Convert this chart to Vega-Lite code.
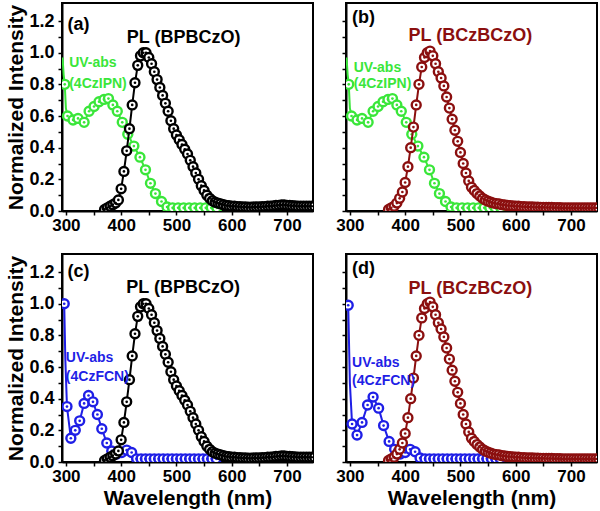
{
"$schema":"https://vega.github.io/schema/vega-lite/v6.json",
"padding":{"left":4,"top":2,"right":0,"bottom":0},
"bounds":"flush",
"columns":2,
"spacing":{"row":43,"column":33},
"datasets":{
"pl1":[{"wl":370,"v":0.01},{"wl":375,"v":0.02},{"wl":380,"v":0.03},{"wl":385,"v":0.04},{"wl":390,"v":0.05},{"wl":395,"v":0.07},{"wl":400,"v":0.14},{"wl":405,"v":0.25},{"wl":410,"v":0.38},{"wl":415,"v":0.52},{"wl":420,"v":0.67},{"wl":425,"v":0.81},{"wl":430,"v":0.92},{"wl":435,"v":0.98},{"wl":440,"v":1.0},{"wl":445,"v":1.0},{"wl":450,"v":0.97},{"wl":455,"v":0.93},{"wl":460,"v":0.88},{"wl":465,"v":0.83},{"wl":470,"v":0.78},{"wl":475,"v":0.73},{"wl":480,"v":0.68},{"wl":485,"v":0.63},{"wl":490,"v":0.57},{"wl":495,"v":0.52},{"wl":500,"v":0.48},{"wl":505,"v":0.45},{"wl":510,"v":0.42},{"wl":515,"v":0.39},{"wl":520,"v":0.36},{"wl":525,"v":0.32},{"wl":530,"v":0.28},{"wl":535,"v":0.24},{"wl":540,"v":0.2},{"wl":545,"v":0.16},{"wl":550,"v":0.13},{"wl":555,"v":0.1},{"wl":560,"v":0.08},{"wl":565,"v":0.065},{"wl":570,"v":0.055},{"wl":575,"v":0.05},{"wl":580,"v":0.045},{"wl":585,"v":0.04},{"wl":590,"v":0.035},{"wl":595,"v":0.033},{"wl":600,"v":0.03},{"wl":605,"v":0.03},{"wl":610,"v":0.028},{"wl":615,"v":0.027},{"wl":620,"v":0.025},{"wl":625,"v":0.025},{"wl":630,"v":0.024},{"wl":635,"v":0.024},{"wl":640,"v":0.025},{"wl":645,"v":0.025},{"wl":650,"v":0.026},{"wl":655,"v":0.027},{"wl":660,"v":0.028},{"wl":665,"v":0.03},{"wl":670,"v":0.03},{"wl":675,"v":0.032},{"wl":680,"v":0.035},{"wl":685,"v":0.036},{"wl":690,"v":0.038},{"wl":695,"v":0.038},{"wl":700,"v":0.036},{"wl":705,"v":0.035},{"wl":710,"v":0.033},{"wl":715,"v":0.032},{"wl":720,"v":0.03},{"wl":725,"v":0.03},{"wl":730,"v":0.03},{"wl":735,"v":0.03},{"wl":740,"v":0.03},{"wl":745,"v":0.03},{"wl":750,"v":0.03}],
"pl2":[{"wl":370,"v":0.01},{"wl":375,"v":0.02},{"wl":380,"v":0.03},{"wl":385,"v":0.05},{"wl":390,"v":0.08},{"wl":395,"v":0.12},{"wl":400,"v":0.18},{"wl":405,"v":0.28},{"wl":410,"v":0.4},{"wl":415,"v":0.53},{"wl":420,"v":0.67},{"wl":425,"v":0.8},{"wl":430,"v":0.91},{"wl":435,"v":0.97},{"wl":440,"v":1.0},{"wl":445,"v":1.01},{"wl":450,"v":0.98},{"wl":455,"v":0.93},{"wl":460,"v":0.88},{"wl":465,"v":0.84},{"wl":470,"v":0.79},{"wl":475,"v":0.72},{"wl":480,"v":0.65},{"wl":485,"v":0.58},{"wl":490,"v":0.51},{"wl":495,"v":0.44},{"wl":500,"v":0.37},{"wl":505,"v":0.3},{"wl":510,"v":0.24},{"wl":515,"v":0.19},{"wl":520,"v":0.15},{"wl":525,"v":0.13},{"wl":530,"v":0.11},{"wl":535,"v":0.095},{"wl":540,"v":0.08},{"wl":545,"v":0.07},{"wl":550,"v":0.062},{"wl":555,"v":0.055},{"wl":560,"v":0.05},{"wl":565,"v":0.047},{"wl":570,"v":0.045},{"wl":575,"v":0.04},{"wl":580,"v":0.038},{"wl":585,"v":0.035},{"wl":590,"v":0.033},{"wl":595,"v":0.032},{"wl":600,"v":0.03},{"wl":605,"v":0.03},{"wl":610,"v":0.028},{"wl":615,"v":0.027},{"wl":620,"v":0.026},{"wl":625,"v":0.025},{"wl":630,"v":0.025},{"wl":635,"v":0.024},{"wl":640,"v":0.024},{"wl":645,"v":0.023},{"wl":650,"v":0.023},{"wl":655,"v":0.022},{"wl":660,"v":0.022},{"wl":665,"v":0.022},{"wl":670,"v":0.021},{"wl":675,"v":0.021},{"wl":680,"v":0.021},{"wl":685,"v":0.02},{"wl":690,"v":0.02},{"wl":695,"v":0.02},{"wl":700,"v":0.02},{"wl":705,"v":0.02},{"wl":710,"v":0.02},{"wl":715,"v":0.02},{"wl":720,"v":0.02},{"wl":725,"v":0.02},{"wl":730,"v":0.02},{"wl":735,"v":0.02},{"wl":740,"v":0.02},{"wl":745,"v":0.02},{"wl":750,"v":0.02}],
"uv1":[{"wl":294,"v":0.97,"m":0},{"wl":296,"v":0.86,"m":0},{"wl":298,"v":0.8,"m":1},{"wl":300,"v":0.65,"m":0},{"wl":303,"v":0.6,"m":1},{"wl":313,"v":0.575,"m":1},{"wl":322,"v":0.585,"m":1},{"wl":333,"v":0.56,"m":1},{"wl":342,"v":0.63,"m":1},{"wl":351,"v":0.66,"m":1},{"wl":360,"v":0.69,"m":1},{"wl":369,"v":0.705,"m":1},{"wl":377,"v":0.71,"m":1},{"wl":385,"v":0.67,"m":1},{"wl":393,"v":0.63,"m":1},{"wl":402,"v":0.56,"m":1},{"wl":412,"v":0.485,"m":1},{"wl":423,"v":0.41,"m":1},{"wl":434,"v":0.34,"m":1},{"wl":444,"v":0.26,"m":1},{"wl":453,"v":0.175,"m":1},{"wl":462,"v":0.11,"m":1},{"wl":473,"v":0.06,"m":1},{"wl":483,"v":0.025,"m":1},{"wl":493,"v":0.02,"m":1},{"wl":503,"v":0.02,"m":1},{"wl":513,"v":0.02,"m":1},{"wl":523,"v":0.02,"m":1},{"wl":533,"v":0.02,"m":1},{"wl":543,"v":0.02,"m":1},{"wl":553,"v":0.02,"m":1},{"wl":563,"v":0.02,"m":1},{"wl":573,"v":0.02,"m":1}],
"uv2c":[{"wl":297,"v":1.0,"m":1},{"wl":299,"v":0.65,"m":0},{"wl":302,"v":0.35,"m":1},{"wl":309,"v":0.15,"m":1},{"wl":317,"v":0.2,"m":1},{"wl":325,"v":0.26,"m":1},{"wl":333,"v":0.37,"m":1},{"wl":341,"v":0.42,"m":1},{"wl":349,"v":0.38,"m":1},{"wl":357,"v":0.3,"m":1},{"wl":365,"v":0.21,"m":1},{"wl":374,"v":0.12,"m":1},{"wl":383,"v":0.07,"m":1},{"wl":392,"v":0.05,"m":1},{"wl":401,"v":0.06,"m":1},{"wl":410,"v":0.075,"m":1},{"wl":419,"v":0.06,"m":1},{"wl":428,"v":0.02,"m":1},{"wl":436,"v":0.02,"m":1},{"wl":444,"v":0.02,"m":1},{"wl":452,"v":0.02,"m":1},{"wl":460,"v":0.02,"m":1},{"wl":468,"v":0.02,"m":1},{"wl":476,"v":0.02,"m":1},{"wl":484,"v":0.02,"m":1},{"wl":492,"v":0.02,"m":1},{"wl":500,"v":0.02,"m":1},{"wl":508,"v":0.02,"m":1},{"wl":516,"v":0.02,"m":1},{"wl":524,"v":0.02,"m":1},{"wl":532,"v":0.02,"m":1},{"wl":540,"v":0.02,"m":1},{"wl":548,"v":0.02,"m":1},{"wl":556,"v":0.02,"m":1},{"wl":564,"v":0.02,"m":1},{"wl":572,"v":0.02,"m":1}],
"uv2d":[{"wl":297,"v":0.99,"m":1},{"wl":300,"v":0.5,"m":0},{"wl":304,"v":0.24,"m":1},{"wl":313,"v":0.17,"m":1},{"wl":322,"v":0.25,"m":1},{"wl":332,"v":0.36,"m":1},{"wl":342,"v":0.41,"m":1},{"wl":352,"v":0.34,"m":1},{"wl":361,"v":0.23,"m":1},{"wl":371,"v":0.13,"m":1},{"wl":381,"v":0.08,"m":1},{"wl":391,"v":0.05,"m":1},{"wl":400,"v":0.06,"m":1},{"wl":409,"v":0.08,"m":1},{"wl":418,"v":0.065,"m":1},{"wl":427,"v":0.025,"m":1},{"wl":436,"v":0.02,"m":1},{"wl":444,"v":0.02,"m":1},{"wl":452,"v":0.02,"m":1},{"wl":460,"v":0.02,"m":1},{"wl":468,"v":0.02,"m":1},{"wl":476,"v":0.02,"m":1},{"wl":484,"v":0.02,"m":1},{"wl":492,"v":0.02,"m":1},{"wl":500,"v":0.02,"m":1},{"wl":508,"v":0.02,"m":1},{"wl":516,"v":0.02,"m":1},{"wl":524,"v":0.02,"m":1},{"wl":532,"v":0.02,"m":1},{"wl":540,"v":0.02,"m":1},{"wl":548,"v":0.02,"m":1},{"wl":556,"v":0.02,"m":1},{"wl":564,"v":0.02,"m":1},{"wl":572,"v":0.02,"m":1}],
"lab":[
{"p":"a","k":"tag","wl":303,"v":1.178,"t":"(a)"},{"p":"a","k":"pl","wl":513,"v":1.096,"t":"PL (BPBCzO)"},{"p":"a","k":"uv","wl":306,"v":0.938,"t":"UV-abs"},{"p":"a","k":"uv","wl":306,"v":0.805,"t":"(4CzIPN)"},
{"p":"b","k":"tag","wl":304,"v":1.222,"t":"(b)"},{"p":"b","k":"pl","wl":518,"v":1.107,"t":"PL (BCzBCzO)"},{"p":"b","k":"uv","wl":307,"v":0.906,"t":"UV-abs"},{"p":"b","k":"uv","wl":307,"v":0.8,"t":"(4CzIPN)"},
{"p":"c","k":"tag","wl":303,"v":1.2,"t":"(c)"},{"p":"c","k":"pl","wl":512,"v":1.1,"t":"PL (BPBCzO)"},{"p":"c","k":"uv","wl":300,"v":0.657,"t":"UV-abs"},{"p":"c","k":"uv","wl":300,"v":0.535,"t":"(4CzFCN)"},
{"p":"d","k":"tag","wl":304,"v":1.219,"t":"(d)"},{"p":"d","k":"pl","wl":518,"v":1.09,"t":"PL (BCzBCzO)"},{"p":"d","k":"uv","wl":304,"v":0.625,"t":"UV-abs"},{"p":"d","k":"uv","wl":304,"v":0.51,"t":"(4CzFCN)"}
]
},
"concat":[
{"width":251,"height":208,
"encoding":{"x":{"field":"wl","type":"quantitative","scale":{"domain":[293,747],"nice":false,"zero":false},"axis":{"title":null,"values":[300,350,400,450,500,550,600,650,700],"labelExpr":"datum.value % 100 === 0 ? datum.label : ''","labelOverlap":false,"labelFlush":false,"labelPadding":2}},
"y":{"field":"v","type":"quantitative","scale":{"domain":[0,1.314],"nice":false,"zero":false},"axis":{"title":"Normalized Intensity","values":[0,0.1,0.2,0.3,0.4,0.5,0.6,0.7,0.8,0.9,1.0,1.1,1.2],"labelExpr":"round(datum.value*10) % 2 === 0 ? format(datum.value,'.1f') : ''","labelOverlap":false,"labelFlush":false,"labelPadding":4,"titlePadding":2}}},
"layer":[
{"data":{"name":"uv1"},"mark":{"type":"line","color":"#3ae63a","strokeWidth":2,"clip":true},"encoding":{}},
{"data":{"name":"uv1"},"transform":[{"filter":"datum.m==1"}],"mark":{"type":"point","shape":"circle","size":80,"filled":true,"fill":"white","stroke":"#3ae63a","strokeWidth":2.4,"opacity":1,"clip":true},"encoding":{}},
{"data":{"name":"uv1"},"transform":[{"filter":"datum.m==1"}],"mark":{"type":"point","shape":"circle","size":7,"filled":true,"color":"#3ae63a","opacity":1,"clip":true},"encoding":{}},
{"data":{"name":"pl1"},"mark":{"type":"line","color":"black","strokeWidth":2,"clip":true},"encoding":{}},
{"data":{"name":"pl1"},"mark":{"type":"point","shape":"circle","size":80,"filled":true,"fill":"white","stroke":"black","strokeWidth":2.4,"opacity":1,"clip":true},"encoding":{}},
{"data":{"name":"pl1"},"mark":{"type":"point","shape":"circle","size":7,"filled":true,"color":"black","opacity":1,"clip":true},"encoding":{}},
{"data":{"name":"lab"},"transform":[{"filter":"datum.p==='a' && datum.k==='tag'"}],"mark":{"type":"text","align":"left","baseline":"middle","font":"Liberation Sans","fontWeight":"bold","fontSize":18,"color":"black"},"encoding":{"text":{"field":"t"}}},
{"data":{"name":"lab"},"transform":[{"filter":"datum.p==='a' && datum.k==='pl'"}],"mark":{"type":"text","align":"center","baseline":"middle","font":"Liberation Sans","fontWeight":"bold","fontSize":18,"color":"black"},"encoding":{"text":{"field":"t"}}},
{"data":{"name":"lab"},"transform":[{"filter":"datum.p==='a' && datum.k==='uv'"}],"mark":{"type":"text","align":"left","baseline":"middle","font":"Liberation Sans","fontWeight":"bold","fontSize":14,"color":"#3ae63a"},"encoding":{"text":{"field":"t"}}}
]},
{"width":251,"height":208,
"encoding":{"x":{"field":"wl","type":"quantitative","scale":{"domain":[293,747],"nice":false,"zero":false},"axis":{"title":null,"values":[300,350,400,450,500,550,600,650,700],"labelExpr":"datum.value % 100 === 0 ? datum.label : ''","labelOverlap":false,"labelFlush":false,"labelPadding":2}},
"y":{"field":"v","type":"quantitative","scale":{"domain":[0,1.314],"nice":false,"zero":false},"axis":{"title":null,"values":[0,0.1,0.2,0.3,0.4,0.5,0.6,0.7,0.8,0.9,1.0,1.1,1.2],"labels":false}}},
"layer":[
{"data":{"name":"uv1"},"mark":{"type":"line","color":"#3ae63a","strokeWidth":2,"clip":true},"encoding":{}},
{"data":{"name":"uv1"},"transform":[{"filter":"datum.m==1"}],"mark":{"type":"point","shape":"circle","size":80,"filled":true,"fill":"white","stroke":"#3ae63a","strokeWidth":2.4,"opacity":1,"clip":true},"encoding":{}},
{"data":{"name":"uv1"},"transform":[{"filter":"datum.m==1"}],"mark":{"type":"point","shape":"circle","size":7,"filled":true,"color":"#3ae63a","opacity":1,"clip":true},"encoding":{}},
{"data":{"name":"pl2"},"mark":{"type":"line","color":"#8b0f0f","strokeWidth":2,"clip":true},"encoding":{}},
{"data":{"name":"pl2"},"mark":{"type":"point","shape":"circle","size":80,"filled":true,"fill":"white","stroke":"#8b0f0f","strokeWidth":2.4,"opacity":1,"clip":true},"encoding":{}},
{"data":{"name":"pl2"},"mark":{"type":"point","shape":"circle","size":7,"filled":true,"color":"#8b0f0f","opacity":1,"clip":true},"encoding":{}},
{"data":{"name":"lab"},"transform":[{"filter":"datum.p==='b' && datum.k==='tag'"}],"mark":{"type":"text","align":"left","baseline":"middle","font":"Liberation Sans","fontWeight":"bold","fontSize":18,"color":"black"},"encoding":{"text":{"field":"t"}}},
{"data":{"name":"lab"},"transform":[{"filter":"datum.p==='b' && datum.k==='pl'"}],"mark":{"type":"text","align":"center","baseline":"middle","font":"Liberation Sans","fontWeight":"bold","fontSize":18,"color":"#8b0f0f"},"encoding":{"text":{"field":"t"}}},
{"data":{"name":"lab"},"transform":[{"filter":"datum.p==='b' && datum.k==='uv'"}],"mark":{"type":"text","align":"left","baseline":"middle","font":"Liberation Sans","fontWeight":"bold","fontSize":14,"color":"#3ae63a"},"encoding":{"text":{"field":"t"}}}
]},
{"width":251,"height":208,
"encoding":{"x":{"field":"wl","type":"quantitative","scale":{"domain":[293,747],"nice":false,"zero":false},"axis":{"title":"Wavelength (nm)","titlePadding":3,"values":[300,350,400,450,500,550,600,650,700],"labelExpr":"datum.value % 100 === 0 ? datum.label : ''","labelOverlap":false,"labelFlush":false,"labelPadding":2}},
"y":{"field":"v","type":"quantitative","scale":{"domain":[0,1.314],"nice":false,"zero":false},"axis":{"title":"Normalized Intensity","values":[0,0.1,0.2,0.3,0.4,0.5,0.6,0.7,0.8,0.9,1.0,1.1,1.2],"labelExpr":"round(datum.value*10) % 2 === 0 ? format(datum.value,'.1f') : ''","labelOverlap":false,"labelFlush":false,"labelPadding":4,"titlePadding":2}}},
"layer":[
{"data":{"name":"uv2c"},"mark":{"type":"line","color":"#1f1fe6","strokeWidth":2,"clip":true},"encoding":{}},
{"data":{"name":"uv2c"},"transform":[{"filter":"datum.m==1"}],"mark":{"type":"point","shape":"circle","size":80,"filled":true,"fill":"white","stroke":"#1f1fe6","strokeWidth":2.4,"opacity":1,"clip":true},"encoding":{}},
{"data":{"name":"uv2c"},"transform":[{"filter":"datum.m==1"}],"mark":{"type":"point","shape":"circle","size":7,"filled":true,"color":"#1f1fe6","opacity":1,"clip":true},"encoding":{}},
{"data":{"name":"pl1"},"mark":{"type":"line","color":"black","strokeWidth":2,"clip":true},"encoding":{}},
{"data":{"name":"pl1"},"mark":{"type":"point","shape":"circle","size":80,"filled":true,"fill":"white","stroke":"black","strokeWidth":2.4,"opacity":1,"clip":true},"encoding":{}},
{"data":{"name":"pl1"},"mark":{"type":"point","shape":"circle","size":7,"filled":true,"color":"black","opacity":1,"clip":true},"encoding":{}},
{"data":{"name":"lab"},"transform":[{"filter":"datum.p==='c' && datum.k==='tag'"}],"mark":{"type":"text","align":"left","baseline":"middle","font":"Liberation Sans","fontWeight":"bold","fontSize":18,"color":"black"},"encoding":{"text":{"field":"t"}}},
{"data":{"name":"lab"},"transform":[{"filter":"datum.p==='c' && datum.k==='pl'"}],"mark":{"type":"text","align":"center","baseline":"middle","font":"Liberation Sans","fontWeight":"bold","fontSize":18,"color":"black"},"encoding":{"text":{"field":"t"}}},
{"data":{"name":"lab"},"transform":[{"filter":"datum.p==='c' && datum.k==='uv'"}],"mark":{"type":"text","align":"left","baseline":"middle","font":"Liberation Sans","fontWeight":"bold","fontSize":14,"color":"#1f1fe6"},"encoding":{"text":{"field":"t"}}}
]},
{"width":251,"height":208,
"encoding":{"x":{"field":"wl","type":"quantitative","scale":{"domain":[293,747],"nice":false,"zero":false},"axis":{"title":"Wavelength (nm)","titlePadding":3,"values":[300,350,400,450,500,550,600,650,700],"labelExpr":"datum.value % 100 === 0 ? datum.label : ''","labelOverlap":false,"labelFlush":false,"labelPadding":2}},
"y":{"field":"v","type":"quantitative","scale":{"domain":[0,1.314],"nice":false,"zero":false},"axis":{"title":null,"values":[0,0.1,0.2,0.3,0.4,0.5,0.6,0.7,0.8,0.9,1.0,1.1,1.2],"labels":false}}},
"layer":[
{"data":{"name":"uv2d"},"mark":{"type":"line","color":"#1f1fe6","strokeWidth":2,"clip":true},"encoding":{}},
{"data":{"name":"uv2d"},"transform":[{"filter":"datum.m==1"}],"mark":{"type":"point","shape":"circle","size":80,"filled":true,"fill":"white","stroke":"#1f1fe6","strokeWidth":2.4,"opacity":1,"clip":true},"encoding":{}},
{"data":{"name":"uv2d"},"transform":[{"filter":"datum.m==1"}],"mark":{"type":"point","shape":"circle","size":7,"filled":true,"color":"#1f1fe6","opacity":1,"clip":true},"encoding":{}},
{"data":{"name":"pl2"},"mark":{"type":"line","color":"#8b0f0f","strokeWidth":2,"clip":true},"encoding":{}},
{"data":{"name":"pl2"},"mark":{"type":"point","shape":"circle","size":80,"filled":true,"fill":"white","stroke":"#8b0f0f","strokeWidth":2.4,"opacity":1,"clip":true},"encoding":{}},
{"data":{"name":"pl2"},"mark":{"type":"point","shape":"circle","size":7,"filled":true,"color":"#8b0f0f","opacity":1,"clip":true},"encoding":{}},
{"data":{"name":"lab"},"transform":[{"filter":"datum.p==='d' && datum.k==='tag'"}],"mark":{"type":"text","align":"left","baseline":"middle","font":"Liberation Sans","fontWeight":"bold","fontSize":18,"color":"black"},"encoding":{"text":{"field":"t"}}},
{"data":{"name":"lab"},"transform":[{"filter":"datum.p==='d' && datum.k==='pl'"}],"mark":{"type":"text","align":"center","baseline":"middle","font":"Liberation Sans","fontWeight":"bold","fontSize":18,"color":"#8b0f0f"},"encoding":{"text":{"field":"t"}}},
{"data":{"name":"lab"},"transform":[{"filter":"datum.p==='d' && datum.k==='uv'"}],"mark":{"type":"text","align":"left","baseline":"middle","font":"Liberation Sans","fontWeight":"bold","fontSize":14,"color":"#1f1fe6"},"encoding":{"text":{"field":"t"}}}
]}
],
"config":{
"view":{"stroke":"black","strokeWidth":2},
"axis":{"grid":false,"domainColor":"black","domainWidth":2,"tickColor":"black","tickWidth":1.5,"tickSize":4,"labelFont":"Liberation Sans","labelFontWeight":"bold","labelFontSize":17,"labelColor":"black","titleFont":"Liberation Sans","titleFontWeight":"bold","titleFontSize":21,"titleColor":"black"},
"axisY":{"labelFontSize":18}
}
}
